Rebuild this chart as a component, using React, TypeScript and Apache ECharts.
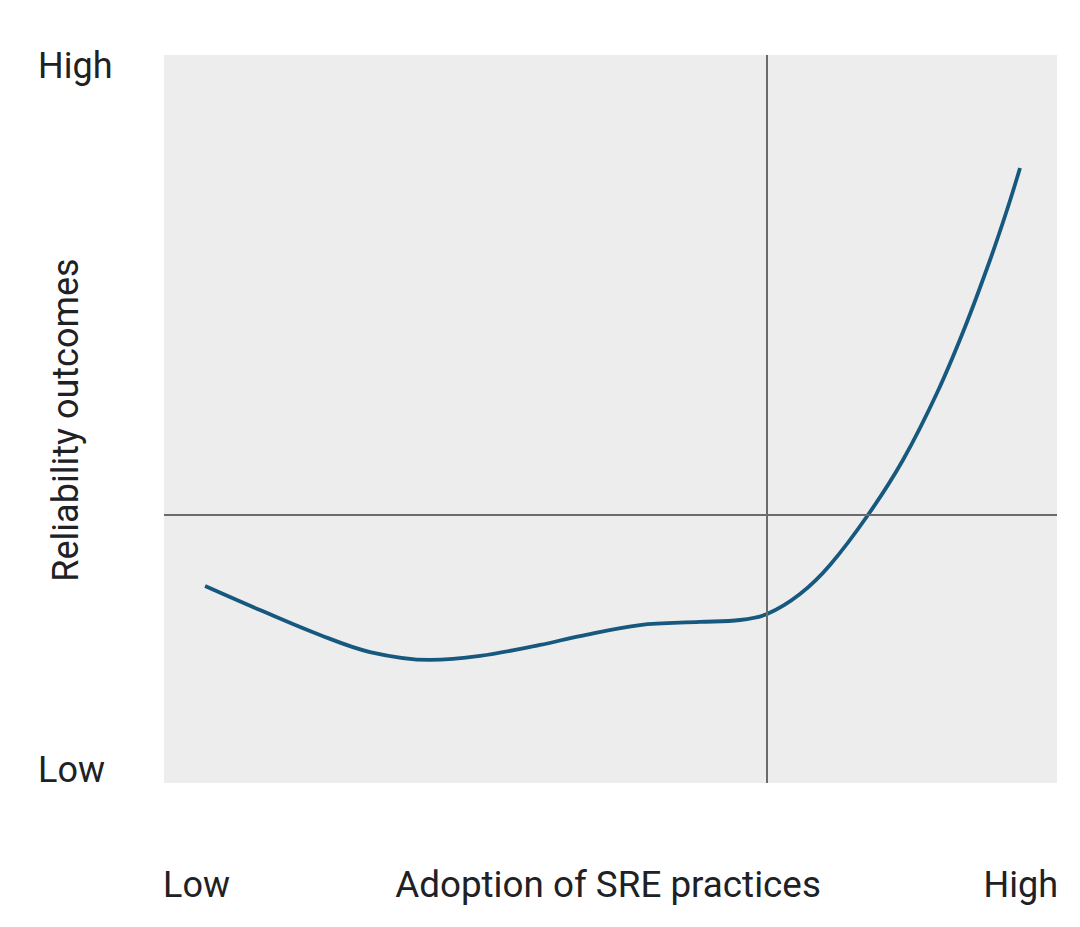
import React, { useEffect, useRef } from "react";
import * as echarts from "echarts";

// Curve samples (x: adoption 0-100, y: reliability 0-100)
const adoption = [4.6, 10.75, 17.47, 23.07, 29.79, 35.39, 42.11, 46.58, 53.3, 60.02, 64.5, 67.53, 71.22, 74.58, 78.83, 82.75, 86.56, 89.7, 92.5, 94.4, 95.86];
const reliability = [27.06, 23.76, 20.33, 17.99, 16.9, 17.45, 18.96, 20.19, 21.7, 22.12, 22.39, 23.21, 25.96, 29.95, 36.81, 44.37, 53.57, 62.64, 71.84, 78.71, 84.48];

const refX = 67.5;
const refY = 36.8;

const yTickLabels = ["Low", "High"];
const xTickLabels = ["Low", "High"];
const xAxisName = "Adoption of SRE practices";
const yAxisName = "Reliability outcomes";

const FONT = "Roboto, 'Open Sans', sans-serif";
const TXT = "#202124";

export default function App() {
  const ref = useRef<HTMLDivElement>(null);
  useEffect(() => {
    const chart = echarts.init(ref.current!, undefined, { renderer: "svg" });
    const data = adoption.map((x, i) => [x, reliability[i]]);
    const fs = 36;
    const t = (text: string, x: number, y: number, align: string, size = fs) => ({
      type: "text",
      x,
      y,
      style: { text, fill: TXT, font: `${size}px ${FONT}`, align, verticalAlign: "middle" },
    });
    chart.setOption({
      animation: false,
      grid: {
        left: 164,
        right: 23,
        top: 55,
        bottom: 144,
        show: true,
        backgroundColor: "#ededed",
        borderWidth: 0,
      },
      xAxis: {
        type: "value",
        min: 0,
        max: 100,
        axisLine: { show: false },
        axisTick: { show: false },
        axisLabel: { show: false },
        splitLine: { show: false },
      },
      yAxis: {
        type: "value",
        min: 0,
        max: 100,
        axisLine: { show: false },
        axisTick: { show: false },
        axisLabel: { show: false },
        splitLine: { show: false },
      },
      series: [
        {
          type: "line",
          data,
          smooth: 0.35,
          symbol: "none",
          lineStyle: { color: "#17587f", width: 3.8 },
          markLine: {
            silent: true,
            symbol: "none",
            label: { show: false },
            lineStyle: { color: "#6b6b6b", width: 2, type: "solid" },
            data: [{ xAxis: refX }, { yAxis: refY }],
          },
          z: 3,
        },
      ],
      graphic: [
        t(yTickLabels[1], 38, 65.6, "left"),
        t(yTickLabels[0], 38, 769.6, "left"),
        t(xTickLabels[0], 163, 884.6, "left"),
        t(xTickLabels[1], 1058, 884.6, "right"),
        t(xAxisName, 608, 884.6, "center", 36.8),
        {
          type: "text",
          x: 66,
          y: 420,
          rotation: Math.PI / 2,
          style: { text: yAxisName, fill: TXT, font: `${fs}px ${FONT}`, align: "center", verticalAlign: "middle" },
        },
      ],
    });
    return () => chart.dispose();
  }, []);
  return <div ref={ref} style={{ width: 1080, height: 927, position: "absolute", left: 0, top: 0 }} />;
}
